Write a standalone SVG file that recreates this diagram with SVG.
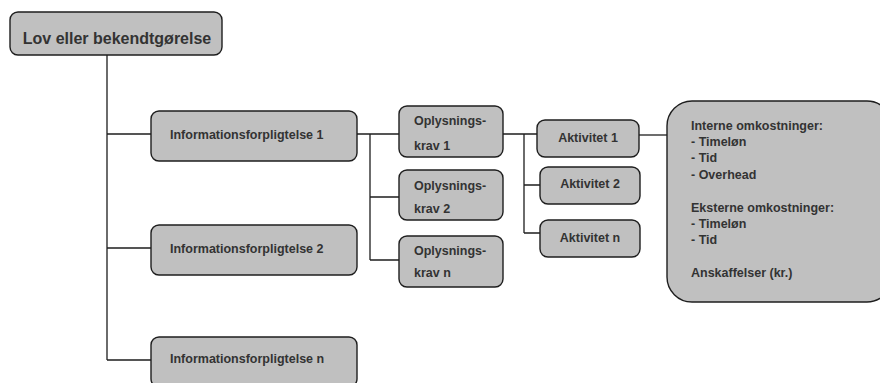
<svg xmlns="http://www.w3.org/2000/svg" width="880" height="383" viewBox="0 0 880 383">
<style>
.box{fill:#c0c0c0;stroke:#1e1e1e;stroke-width:1.4}
.t{font-family:"Liberation Sans",Arial,sans-serif;font-weight:bold;font-size:12.5px;fill:#333}
.big{font-size:16px}
.c{text-anchor:middle}
.ln{stroke:#1e1e1e;stroke-width:1.3;fill:none}
</style>
<rect width="880" height="383" fill="#fff"/>
<g id="connectors">
<path class="ln" d="M107 55V360M107 134H151M107 248H151M107 360H151"/>
<path class="ln" d="M357 134H399M370 134V260M370 197H399M370 260H399"/>
<path class="ln" d="M503 134H537M524 134V233M524 185H540M524 233H540"/>
<path class="ln" d="M639 135H667"/>
</g>
<g id="lov"><rect class="box" x="10" y="12" width="212" height="43" rx="8"/><text class="t big c" x="117" y="44">Lov eller bekendtgørelse</text></g>
<g id="info1"><rect class="box" x="151" y="111" width="206" height="50" rx="8"/><text class="t" x="170" y="138.5">Informationsforpligtelse 1</text></g>
<g id="info2"><rect class="box" x="151" y="225" width="206" height="50" rx="8"/><text class="t" x="170" y="252.5">Informationsforpligtelse 2</text></g>
<g id="infon"><rect class="box" x="151" y="337" width="206" height="50" rx="8"/><text class="t" x="170" y="362.5">Informationsforpligtelse n</text></g>
<g id="opl1"><rect class="box" x="399" y="106" width="104" height="51" rx="8"/><text class="t" x="414" y="124.5">Oplysnings-</text><text class="t" x="414" y="149.5">krav 1</text></g>
<g id="opl2"><rect class="box" x="399" y="170" width="104" height="50" rx="8"/><text class="t" x="414" y="189.5">Oplysnings-</text><text class="t" x="414" y="212.5">krav 2</text></g>
<g id="opln"><rect class="box" x="399" y="236" width="104" height="51" rx="8"/><text class="t" x="414" y="254.5">Oplysnings-</text><text class="t" x="414" y="276.5">krav n</text></g>
<g id="akt1"><rect class="box" x="537" y="120" width="102" height="37" rx="8"/><text class="t c" x="588" y="141.5">Aktivitet 1</text></g>
<g id="akt2"><rect class="box" x="540" y="167" width="100" height="37" rx="8"/><text class="t c" x="590" y="187.5">Aktivitet 2</text></g>
<g id="aktn"><rect class="box" x="540" y="220" width="100" height="37" rx="8"/><text class="t c" x="590" y="241.5">Aktivitet n</text></g>
<g id="omk"><rect class="box" x="667" y="101" width="225" height="201" rx="25"/>
<text class="t" x="691" y="129.5">Interne omkostninger:</text>
<text class="t" x="691" y="145.9">- Timeløn</text>
<text class="t" x="691" y="162.3">- Tid</text>
<text class="t" x="691" y="178.7">- Overhead</text>
<text class="t" x="691" y="211.5">Eksterne omkostninger:</text>
<text class="t" x="691" y="227.9">- Timeløn</text>
<text class="t" x="691" y="244.3">- Tid</text>
<text class="t" x="691" y="277.1">Anskaffelser (kr.)</text>
</g>
</svg>
